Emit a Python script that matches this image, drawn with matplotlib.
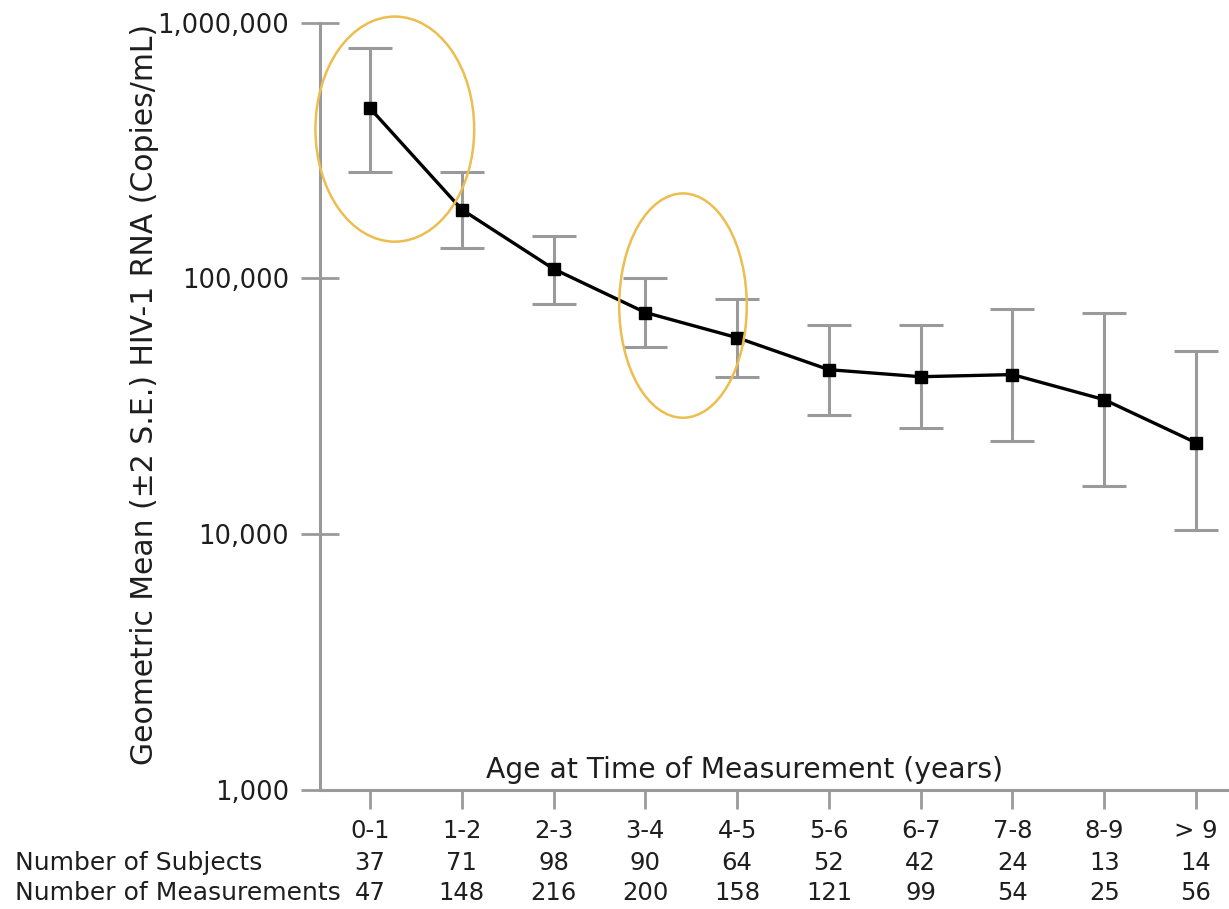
import numpy as np
import matplotlib
matplotlib.use('Agg')
import matplotlib.pyplot as plt
import matplotlib.transforms as mtransforms
from matplotlib.patches import Ellipse

# geometric mean viral load by age band, with +/- 2 S.E. bounds
age_groups = ['0-1', '1-2', '2-3', '3-4', '4-5', '5-6', '6-7', '7-8', '8-9', '> 9']
geo_mean = [463000, 186000, 109000, 73600, 58700, 44000, 41300, 42100, 33600, 22800]
upper = [794000, 260000, 147000, 100000, 82800, 65500, 65500, 76300, 73600, 52200]
lower = [262000, 131000, 79800, 54200, 41300, 29300, 26100, 23200, 15500, 10400]
n_subjects = [37, 71, 98, 90, 64, 52, 42, 24, 13, 14]
n_measurements = [47, 148, 216, 200, 158, 121, 99, 54, 25, 56]

# highlighted regions: (x centre, log10 y centre, width in groups, height in decades)
highlights = [(0.27, 5.584, 1.73, 0.88), (3.41, 4.894, 1.39, 0.877)]

plt.rcParams['font.family'] = ['DejaVu Sans']
text_color = '#1e1e1e'
axis_grey = '#9a9a9a'

fig = plt.figure(figsize=(12.29, 9.09), dpi=100)
ax = fig.add_axes([0.2604, 0.1309, 0.7396, 0.8441])

x = np.arange(len(age_groups))
gm = np.array(geo_mean)
yerr = [gm - np.array(lower), np.array(upper) - gm]

ax.errorbar(x, gm, yerr=yerr, fmt='none', ecolor=axis_grey, elinewidth=2.2,
            capsize=15.5, capthick=2.2, zorder=2)
ax.plot(x, gm, color='black', linewidth=2.4, marker='s', markersize=9, zorder=3)

ax.set_yscale('log')
ax.set_ylim(1000, 1000000)
ax.set_xlim(-0.545, 9.36)
ax.set_yticks([1000, 10000, 100000, 1000000])
ax.set_yticklabels(['1,000', '10,000', '100,000', '1,000,000'])
ax.yaxis.set_minor_locator(matplotlib.ticker.NullLocator())
ax.set_xticks(x)
ax.set_xticklabels(age_groups)

for side in ['top', 'right']:
    ax.spines[side].set_visible(False)
for side in ['left', 'bottom']:
    ax.spines[side].set_color(axis_grey)
    ax.spines[side].set_linewidth(2.2)

ax.tick_params(axis='y', direction='inout', length=27, width=2, color=axis_grey,
               pad=9, labelsize=18.5, labelcolor=text_color)
ax.tick_params(axis='x', direction='out', length=14, width=2, color=axis_grey,
               pad=7, labelsize=17.5, labelcolor=text_color)

ax.set_ylabel('Geometric Mean (±2 S.E.) HIV-1 RNA (Copies/mL)', fontsize=21.5,
              color=text_color)
ax.yaxis.set_label_coords(-0.177, 0.515)

ax.text(0.4675, 0.008, 'Age at Time of Measurement (years)', transform=ax.transAxes,
        ha='center', va='bottom', fontsize=20.3, color=text_color)

# counts table under the category labels
blend = mtransforms.blended_transform_factory(ax.transData, fig.transFigure)
fig.text(15 / 1229, 1 - 863 / 909, 'Number of Subjects', ha='left', va='center',
         fontsize=18, color=text_color)
fig.text(15 / 1229, 1 - 893 / 909, 'Number of Measurements', ha='left', va='center',
         fontsize=18, color=text_color)
for i in range(len(age_groups)):
    ax.text(x[i], 1 - 863 / 909, str(n_subjects[i]), transform=blend,
            ha='center', va='center', fontsize=17.5, color=text_color)
    ax.text(x[i], 1 - 893 / 909, str(n_measurements[i]), transform=blend,
            ha='center', va='center', fontsize=17.5, color=text_color)

# ellipses drawn in (x, log10 y) space so they stay round on the log axis
log_space = ax.transLimits + ax.transAxes
for cx, cy, w, h in highlights:
    ax.add_patch(Ellipse((cx, cy), w, h, transform=log_space, fill=False,
                         edgecolor='#ecbd4f', linewidth=1.8, zorder=4, clip_on=False))

plt.savefig('out.png', dpi=100)
